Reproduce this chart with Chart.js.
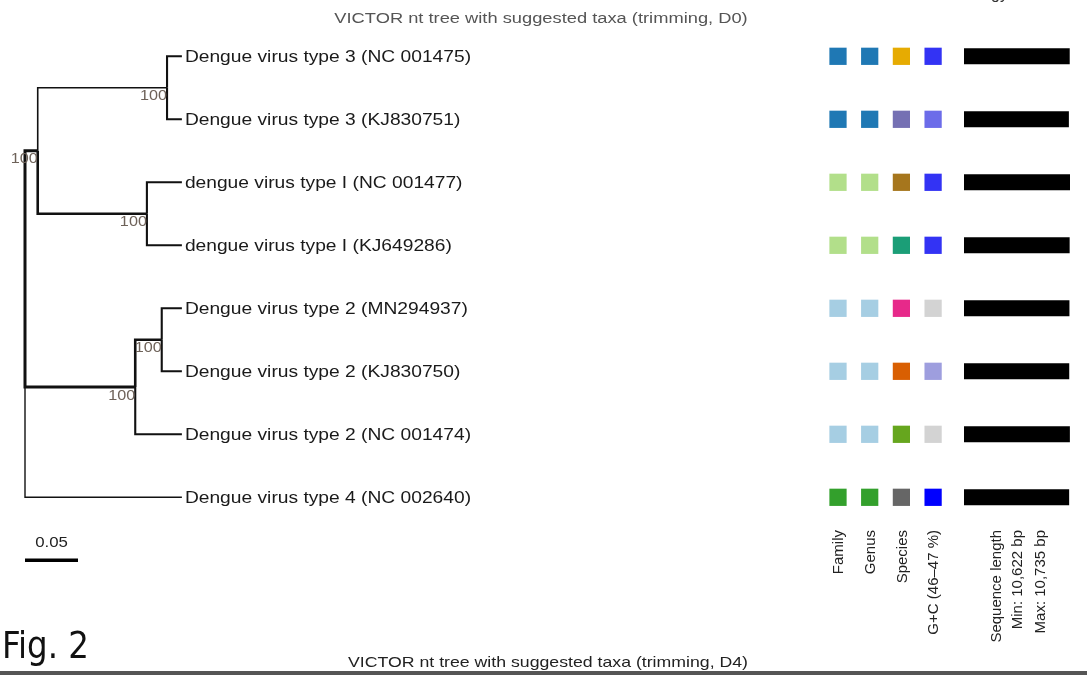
<!DOCTYPE html>
<html>
<head>
<meta charset="utf-8">
<title>VICTOR nt tree</title>
<script src="https://cdn.jsdelivr.net/npm/chart.js@4.4.1/dist/chart.umd.min.js"></script>
<style>
  html, body { margin: 0; background: #fff; }
  canvas { display: block; }
</style>
</head>
<body>
<canvas id="tree" width="1087" height="675"></canvas>
<script>
// ---------------------------------------------------------------------------
// Data
// ---------------------------------------------------------------------------
const leafNames = [
  "Dengue virus type 3 (NC 001475)",
  "Dengue virus type 3 (KJ830751)",
  "dengue virus type I (NC 001477)",
  "dengue virus type I (KJ649286)",
  "Dengue virus type 2 (MN294937)",
  "Dengue virus type 2 (KJ830750)",
  "Dengue virus type 2 (NC 001474)",
  "Dengue virus type 4 (NC 002640)",
];
const leafParent = ["n3", "n3", "n1", "n1", "n2b", "n2b", "n2", "root"];
const leafDepth = [0.148, 0.148, 0.148, 0.148, 0.148, 0.148, 0.148, 0.148];

// internal nodes: distance from root (substitutions / site) and support
const nodeIds = ["root", "nA", "n3", "n1", "n2", "n2b"];
const nodeParent = [null, "root", "nA", "nA", "root", "n2"];
const nodeDepth = [0, 0.012, 0.134, 0.115, 0.104, 0.129];
const bootstrap = [null, 100, 100, 100, 100, 100];
const scaleBarLength = 0.05;

// suggested taxa (cluster numbers), G+C content and genome length
const familyCluster = [1, 1, 2, 2, 0, 0, 0, 3];
const genusCluster = [1, 1, 2, 2, 0, 0, 0, 3];
const speciesCluster = [5, 2, 6, 0, 3, 1, 4, 7];
const gcPercent = [46.76, 46.49, 46.76, 46.76, 46.0, 46.25, 46.0, 47.0];
const seqLength = [10707, 10622, 10735, 10700, 10679, 10658, 10723, 10649];

const matrixColumns = ["Family", "Genus", "Species", "G+C (46\u201347 %)"];
const lengthLegend = ["Sequence length", "Min: 10,622 bp", "Max: 10,735 bp"];
const titleTop = "VICTOR nt tree with suggested taxa (trimming, D0)";
const titleBottom = "VICTOR nt tree with suggested taxa (trimming, D4)";

// ---------------------------------------------------------------------------
// Layout / style
// ---------------------------------------------------------------------------
const W = 1087, H = 675;
const ROW0 = 56.3, ROW_STEP = 63;          // first leaf row, row spacing (px)
const TREE_X0 = 25, PX_PER_UNIT = 1060;    // root position, px per branch unit
const COL_X0 = 838, COL_STEP = 31.7;       // matrix columns
const BAR_X0 = 964, BAR_PX = 106;          // sequence length bars
const GC_MIN = 46, GC_MAX = 47;

const PAIRED = ["#a6cee3", "#1f78b4", "#b2df8a", "#33a02c"];
const DARK2 = ["#1b9e77", "#d95f02", "#7570b3", "#e7298a", "#66a61e", "#e6ab02", "#a6761d", "#666666"];
const BRANCH_WIDTH = { nA: 3, n2: 3, n3: 1.6, n1: 2.6, n2b: 2.6, leaf7: 1.4 };
const FONT = "'Liberation Sans', Arial, sans-serif";
const TEXT_SX = 1.13; // the figure is slightly stretched horizontally

function gcColor(v) {
  const t = Math.max(0, Math.min(1, (v - GC_MIN) / (GC_MAX - GC_MIN)));
  const rg = Math.round(211 * (1 - t));
  return `rgb(${rg},${rg},${Math.round(211 + 44 * t)})`;
}

// ---------------------------------------------------------------------------
// Tree geometry (depth from data, y from leaf order)
// ---------------------------------------------------------------------------
function childrenOf(id) {
  const kids = [];
  nodeIds.forEach((n, i) => { if (nodeParent[i] === id) kids.push({ node: n }); });
  leafParent.forEach((p, i) => { if (p === id) kids.push({ leaf: i }); });
  return kids;
}
function yOf(kid) {
  if (kid.leaf !== undefined) return kid.leaf;
  const kids = childrenOf(kid.node);
  return kids.reduce((s, k) => s + yOf(k), 0) / kids.length;
}
function depthOf(kid) {
  return kid.leaf !== undefined ? leafDepth[kid.leaf] : nodeDepth[nodeIds.indexOf(kid.node)];
}

const branchSets = [];
nodeIds.forEach((parent) => {
  const p = { node: parent };
  childrenOf(parent).forEach((kid) => {
    const key = kid.leaf !== undefined ? "leaf" + kid.leaf : kid.node;
    branchSets.push({
      data: [
        { x: depthOf(p), y: yOf(p) },
        { x: depthOf(p), y: yOf(kid) },
        { x: depthOf(kid), y: yOf(kid) },
      ],
      showLine: true,
      borderColor: "#111",
      borderWidth: BRANCH_WIDTH[key] || 2.1,
      borderJoinStyle: "miter",
      pointRadius: 0,
      order: key === "leaf7" ? 2 : 1,
    });
  });
});

const scaleBarSet = {
  data: [{ x: 0, y: leafNames.length }, { x: scaleBarLength, y: leafNames.length }],
  showLine: true, borderColor: "#000", borderWidth: 3.5, pointRadius: 0,
};

const matrixSets = [
  familyCluster.map((c) => PAIRED[c]),
  genusCluster.map((c) => PAIRED[c]),
  speciesCluster.map((c) => DARK2[c]),
  gcPercent.map(gcColor),
].map((colors, col) => ({
  xAxisID: "xm",
  data: leafNames.map((_, i) => ({ x: col, y: i })),
  pointStyle: "rect",
  pointRadius: 12.2,
  pointBackgroundColor: colors,
  pointBorderWidth: 0,
}));

const seqMax = Math.max(...seqLength);
const lengthSets = seqLength.map((len, i) => ({
  xAxisID: "xb",
  data: [{ x: 0, y: i }, { x: len, y: i }],
  showLine: true, borderColor: "#000", borderWidth: 16, borderCapStyle: "butt", pointRadius: 0,
}));

// ---------------------------------------------------------------------------
// Text
// ---------------------------------------------------------------------------
function drawText(ctx, text, x, y, o) {
  ctx.save();
  ctx.font = o.font;
  ctx.fillStyle = o.color || "#111";
  ctx.textAlign = o.align || "left";
  ctx.textBaseline = o.baseline || "middle";
  ctx.translate(x, y);
  if (o.rotate) ctx.rotate(o.rotate);
  ctx.scale(o.sx || 1, 1);
  ctx.fillText(text, 0, 0);
  ctx.restore();
}

const textPlugin = {
  id: "treeText",
  afterDatasetsDraw(chart) {
    const { ctx } = chart;
    const x = chart.scales.x, y = chart.scales.y, xm = chart.scales.xm;

    drawText(ctx, titleTop, 541, 19, { font: `15.5px ${FONT}`, color: "#555", align: "center", sx: 1.18 });
    drawText(ctx, "gy", 1008, -1, { font: `16px ${FONT}`, color: "#333", align: "right", baseline: "alphabetic" });

    leafNames.forEach((name, i) => {
      drawText(ctx, name, x.getPixelForValue(leafDepth[i]) + 3, y.getPixelForValue(i) + 1,
        { font: `17px ${FONT}`, color: "#1a1a1a", sx: TEXT_SX });
    });

    nodeIds.forEach((id, i) => {
      if (bootstrap[i] == null) return;
      const ny = yOf({ node: id });
      drawText(ctx, String(bootstrap[i]), x.getPixelForValue(nodeDepth[i]), y.getPixelForValue(ny) + 1,
        { font: `15px ${FONT}`, color: "#6e6259", align: "right", baseline: "top", sx: 1.08 });
    });

    drawText(ctx, String(scaleBarLength), x.getPixelForValue(scaleBarLength / 2), y.getPixelForValue(leafNames.length) - 17,
      { font: `15px ${FONT}`, color: "#222", align: "center", sx: 1.12 });

    matrixColumns.forEach((label, col) => {
      drawText(ctx, label, xm.getPixelForValue(col) + 1, 530, { font: `15px ${FONT}`, color: "#222", align: "right", rotate: -Math.PI / 2 });
    });
    const legendX = [997, 1018, 1041];
    lengthLegend.forEach((label, i) => {
      drawText(ctx, label, legendX[i], 530, { font: `15px ${FONT}`, color: "#222", align: "right", rotate: -Math.PI / 2 });
    });

    drawText(ctx, "Fig. 2", 2, 658, { font: `38px 'Liberation Sans Narrow', 'DejaVu Sans Condensed', sans-serif`, color: "#111", baseline: "alphabetic", sx: 0.95 });
    drawText(ctx, titleBottom, 548, 663, { font: `15px 'Liberation Sans Narrow', ${FONT}`, color: "#222", align: "center", sx: 1.18 });

    ctx.save();
    ctx.fillStyle = "#555";
    ctx.fillRect(0, 671, W, H - 671);
    ctx.restore();
  },
};

// ---------------------------------------------------------------------------
// Chart
// ---------------------------------------------------------------------------
new Chart(document.getElementById("tree"), {
  type: "scatter",
  data: { datasets: [...branchSets, scaleBarSet, ...matrixSets, ...lengthSets] },
  options: {
    responsive: false,
    animation: false,
    events: [],
    layout: { padding: 0, autoPadding: false },
    plugins: { legend: { display: false }, tooltip: { enabled: false } },
    scales: {
      x: { type: "linear", display: false, bounds: "data",
           min: -TREE_X0 / PX_PER_UNIT, max: (W - TREE_X0) / PX_PER_UNIT },
      y: { type: "linear", display: false, bounds: "data", reverse: true,
           min: -ROW0 / ROW_STEP, max: (H - ROW0) / ROW_STEP },
      xm: { type: "linear", axis: "x", display: false, bounds: "data",
            min: -COL_X0 / COL_STEP, max: (W - COL_X0) / COL_STEP },
      xb: { type: "linear", axis: "x", display: false, bounds: "data",
            min: -BAR_X0 * seqMax / BAR_PX, max: (W - BAR_X0) * seqMax / BAR_PX },
    },
  },
  plugins: [textPlugin],
});
</script>
</body>
</html>
